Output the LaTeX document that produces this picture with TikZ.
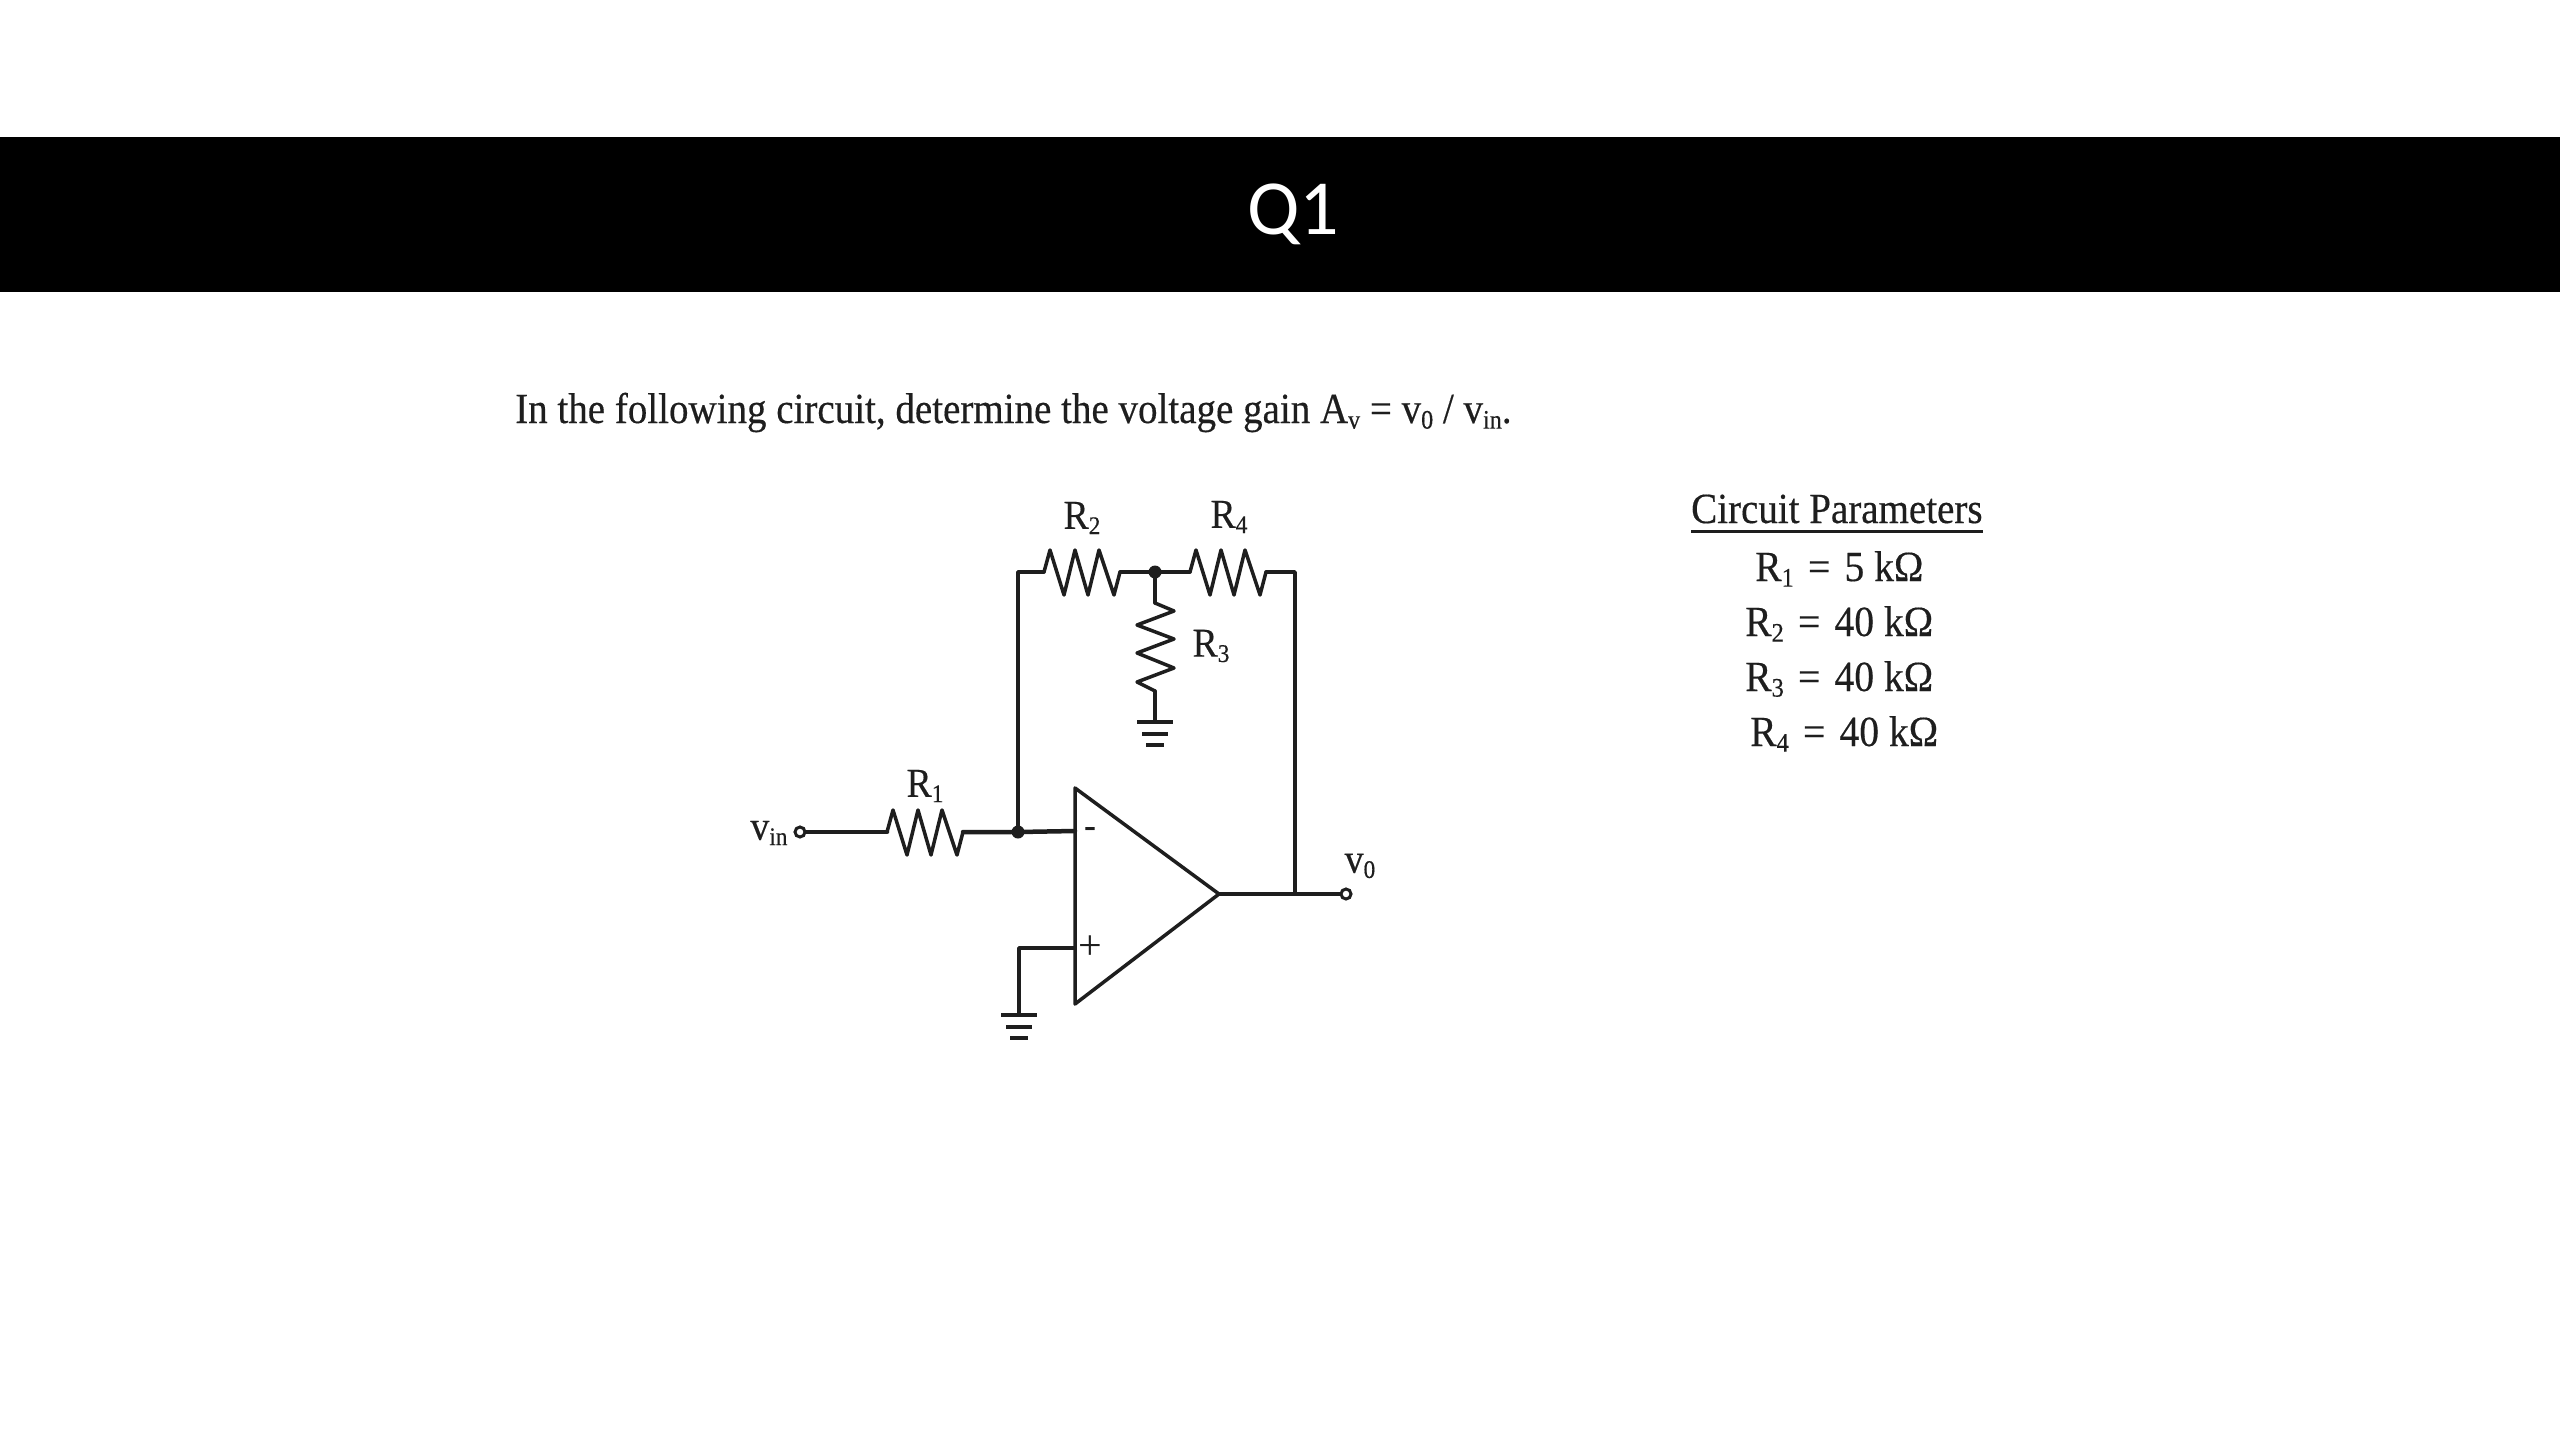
\documentclass[tikz,border=0pt]{standalone}
\usepackage{fontspec}
\setmainfont{Liberation Serif}
\newfontfamily\headfont{Carlito}
\newfontfamily\scanfont[FakeStretch=0.92,FakeBold=0.35]{Liberation Serif}
\newfontfamily\scannarrow[FakeStretch=0.907,FakeBold=0.35]{Liberation Serif}
\newcommand{\sbs}[1]{\raisebox{-.13em}{\scalebox{.62}{#1}}}
\newcommand{\eqs}{\hspace{.33em}=\hspace{.33em}}
\definecolor{ink}{HTML}{1E1E1E}
\tikzset{
  x=1pt,y=-1pt,
  wire/.style={draw=ink,line width=3.5pt,line join=round,line cap=round},
  dot/.style={circle,fill=ink,draw=none,minimum size=13pt,inner sep=0pt},
  term/.style={circle,draw=ink,fill=white,line width=3pt,minimum size=10pt,inner sep=0pt},
  lab/.style={text=ink,inner sep=0pt,font=\scanfont\fontsize{41}{44}\selectfont},
  txt/.style={text=ink,inner sep=0pt,anchor=base west,font=\scanfont\fontsize{43}{46}\selectfont},
  narrowtxt/.style={txt,font=\scannarrow\fontsize{43}{46}\selectfont},
  hres/.pic={
    \draw[wire] (0,0) -- (6,-22) -- (20,23) -- (31,-22) -- (44,23) -- (55,-22) -- (70,23) -- (76,0);
    \coordinate (-a) at (0,0);
    \coordinate (-b) at (76,0);
  },
  vres/.pic={
    \draw[wire] (0,0) -- (19,8) -- (-18,22) -- (19,36) -- (-18,50) -- (19,65) -- (-18,79) -- (0,88);
    \coordinate (-a) at (0,0);
    \coordinate (-b) at (0,88);
  },
  gnd/.pic={
    \draw[wire,line width=4.5pt,line cap=butt] (-18,0) -- (18,0);
    \draw[wire,line width=4.5pt,line cap=butt] (-13,12) -- (13,12);
    \draw[wire,line width=4.5pt,line cap=butt] (-9,23) -- (9,23);
    \coordinate (-a) at (0,0);
  },
}
\begin{document}
\begin{tikzpicture}
\useasboundingbox (0,0) rectangle (2560,1440);
\fill[white] (0,0) rectangle (2560,1440);
\fill[black] (0,137) rectangle (2560,292);
\node[text=white,inner sep=0pt,font=\headfont\fontsize{78}{80}\selectfont] (title) at (1293,214) {Q1};
\node[narrowtxt] (question) at (515,423) {In the following circuit, determine the voltage gain A\sbs{v} = v\sbs{0} / v\sbs{in}.};

% circuit
\pic (r1) at (887,832) {hres};
\pic (r2) at (1044,572) {hres};
\pic (r4) at (1190,572) {hres};
\pic (r3) at (1155,603) {vres};
\pic (g1) at (1155,722) {gnd};
\pic (g2) at (1019,1015) {gnd};
\node[dot] (j1) at (1155,572) {};
\node[dot] (j2) at (1018,832) {};
\node[term] (vin) at (800,832) {};
\node[term] (vo) at (1346,894) {};
\coordinate (amptop) at (1075,788);
\coordinate (ampbot) at (1075,1004);
\coordinate (amptip) at (1219,894);
\coordinate (minus) at (1075,831);
\coordinate (plus) at (1075,948);
\coordinate (plusc) at (1019,948);
\coordinate (j3) at (1295,894);
\draw[wire] (amptop) -- (amptip) -- (ampbot) -- cycle;
\draw[wire,line width=4.5pt] (vin) -- (r1-a);
\draw[wire,line width=4.5pt] (r1-b) -- (j2) -- (minus);
\draw[wire] (j2) |- (r2-a);
\draw[wire] (r2-b) -- (j1) -- (r4-a);
\draw[wire] (j1) -- (r3-a);
\draw[wire] (r3-b) -- (g1-a);
\draw[wire] (r4-b) -| (j3);
\draw[wire,line width=4.5pt] (amptip) -- (vo);
\draw[wire] (plus) -- (plusc) -- (g2-a);
\node[text=ink,inner sep=0pt,font=\bfseries\fontsize{36}{36}\selectfont] (mn) at (1090,832) {-};
\node[text=ink,inner sep=0pt,font=\fontsize{42}{42}\selectfont] (pl) at (1090,948) {+};
\node[lab] (lr1) at (925,786) {R\sbs{1}};
\node[lab] (lr2) at (1082,518) {R\sbs{2}};
\node[lab] (lr3) at (1211,646) {R\sbs{3}};
\node[lab] (lr4) at (1229,517) {R\sbs{4}};
\node[lab] (lvin) at (769,833) {v\sbs{in}};
\node[lab] (lvo) at (1360,866) {v\sbs{0}};

% parameters
\node[narrowtxt] (cp) at (1691,523) {Circuit Parameters};
\draw[ink,line width=3pt] (1691,531) -- (1983,531);
\node[txt] (p1) at (1755,581) {R\sbs{1}\eqs{}5 kΩ};
\node[txt] (p2) at (1745,636) {R\sbs{2}\eqs{}40 kΩ};
\node[txt] (p3) at (1745,691) {R\sbs{3}\eqs{}40 kΩ};
\node[txt] (p4) at (1750,746) {R\sbs{4}\eqs{}40 kΩ};
\end{tikzpicture}
\end{document}
